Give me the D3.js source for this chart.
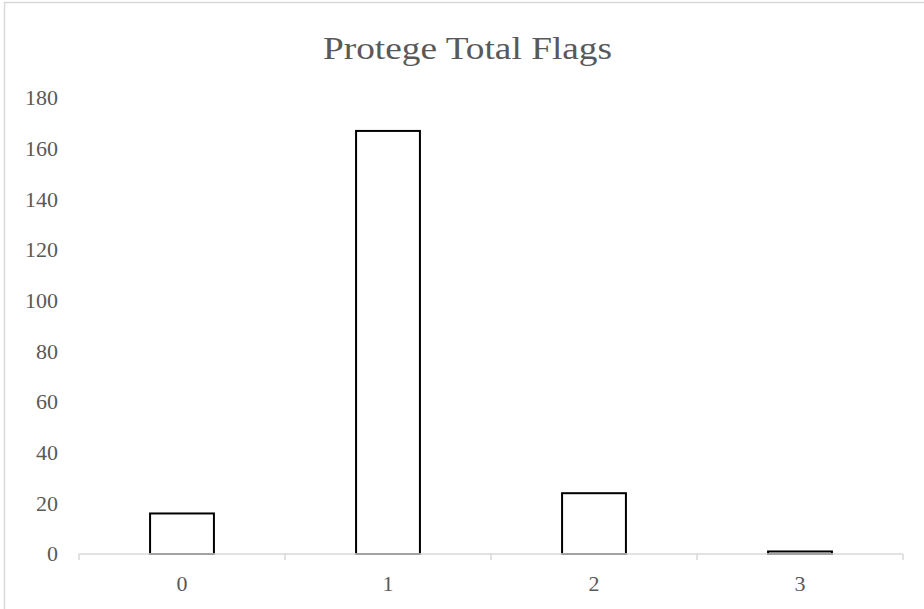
<!DOCTYPE html>
<html lang="en">
<head>
<meta charset="UTF-8">
<title>Protege Total Flags</title>
<script src="https://d3js.org/d3.v7.min.js"></script>
<style>
    body { margin: 0; background: #fff; }
    svg { display: block; font-family: "Liberation Serif", "Times New Roman", serif; }
    .tick-label { fill: #595959; font-size: 22px; }
    .title { fill: #595959; font-size: 32px; }
</style>
</head>
<body>
<div id="chart"></div>
<script>
    // chart data
    const categories = ["0", "1", "2", "3"];
    const flagCounts = [16, 167, 24, 1];
    const yTicks = [0, 20, 40, 60, 80, 100, 120, 140, 160, 180];
    const chartTitle = "Protege Total Flags";

    const width = 924, height = 609;
    const plot = { left: 79, right: 903, top: 98, bottom: 554 };

    const svg = d3.select("#chart").append("svg")
        .attr("width", width)
        .attr("height", height);

    // outer chart frame (right/bottom edges fall outside the picture)
    svg.append("rect")
        .attr("x", 4.5).attr("y", 2.5)
        .attr("width", width + 10).attr("height", height + 10)
        .attr("fill", "#fff")
        .attr("stroke", "#d9d9d9")
        .attr("stroke-width", 1.5);

    // title is drawn wider in the original, so stretch it to the same span
    svg.append("text")
        .attr("class", "title")
        .attr("x", 467.5)
        .attr("y", 58.5)
        .attr("text-anchor", "middle")
        .attr("textLength", 289)
        .attr("lengthAdjust", "spacingAndGlyphs")
        .text(chartTitle);

    const x = d3.scaleBand()
        .domain(categories)
        .range([plot.left, plot.right])
        .paddingInner(0.69)
        .paddingOuter(0.345);

    const y = d3.scaleLinear()
        .domain([0, 180])
        .range([plot.bottom, plot.top]);

    // y labels (no axis line, no gridlines)
    svg.append("g")
        .selectAll("text")
        .data(yTicks)
        .join("text")
        .attr("class", "tick-label")
        .attr("x", 58)
        .attr("y", d => y(d))
        .attr("dy", "0.34em")
        .attr("text-anchor", "end")
        .text(d => d);

    // bars
    svg.append("g")
        .selectAll("rect")
        .data(flagCounts)
        .join("rect")
        .attr("x", (d, i) => x(categories[i]))
        .attr("y", d => y(d))
        .attr("width", x.bandwidth())
        .attr("height", d => y(0) - y(d))
        .attr("fill", "#fff")
        .attr("stroke", "#000")
        .attr("stroke-width", 2);

    // x axis line with ticks between categories
    const step = x.step();
    const tickXs = d3.range(categories.length + 1).map(i => plot.left + i * step);
    const axis = svg.append("g");
    axis.append("line")
        .attr("x1", plot.left).attr("x2", plot.right)
        .attr("y1", plot.bottom).attr("y2", plot.bottom)
        .attr("stroke", "#d9d9d9")
        .attr("stroke-width", 1.5);
    axis.selectAll("line.tick")
        .data(tickXs)
        .join("line")
        .attr("class", "tick")
        .attr("x1", d => d).attr("x2", d => d)
        .attr("y1", plot.bottom).attr("y2", plot.bottom + 6)
        .attr("stroke", "#d9d9d9")
        .attr("stroke-width", 1.5);

    svg.append("g")
        .selectAll("text")
        .data(categories)
        .join("text")
        .attr("class", "tick-label")
        .attr("x", d => x(d) + x.bandwidth() / 2)
        .attr("y", 591)
        .attr("text-anchor", "middle")
        .text(d => d);
</script>
</body>
</html>
